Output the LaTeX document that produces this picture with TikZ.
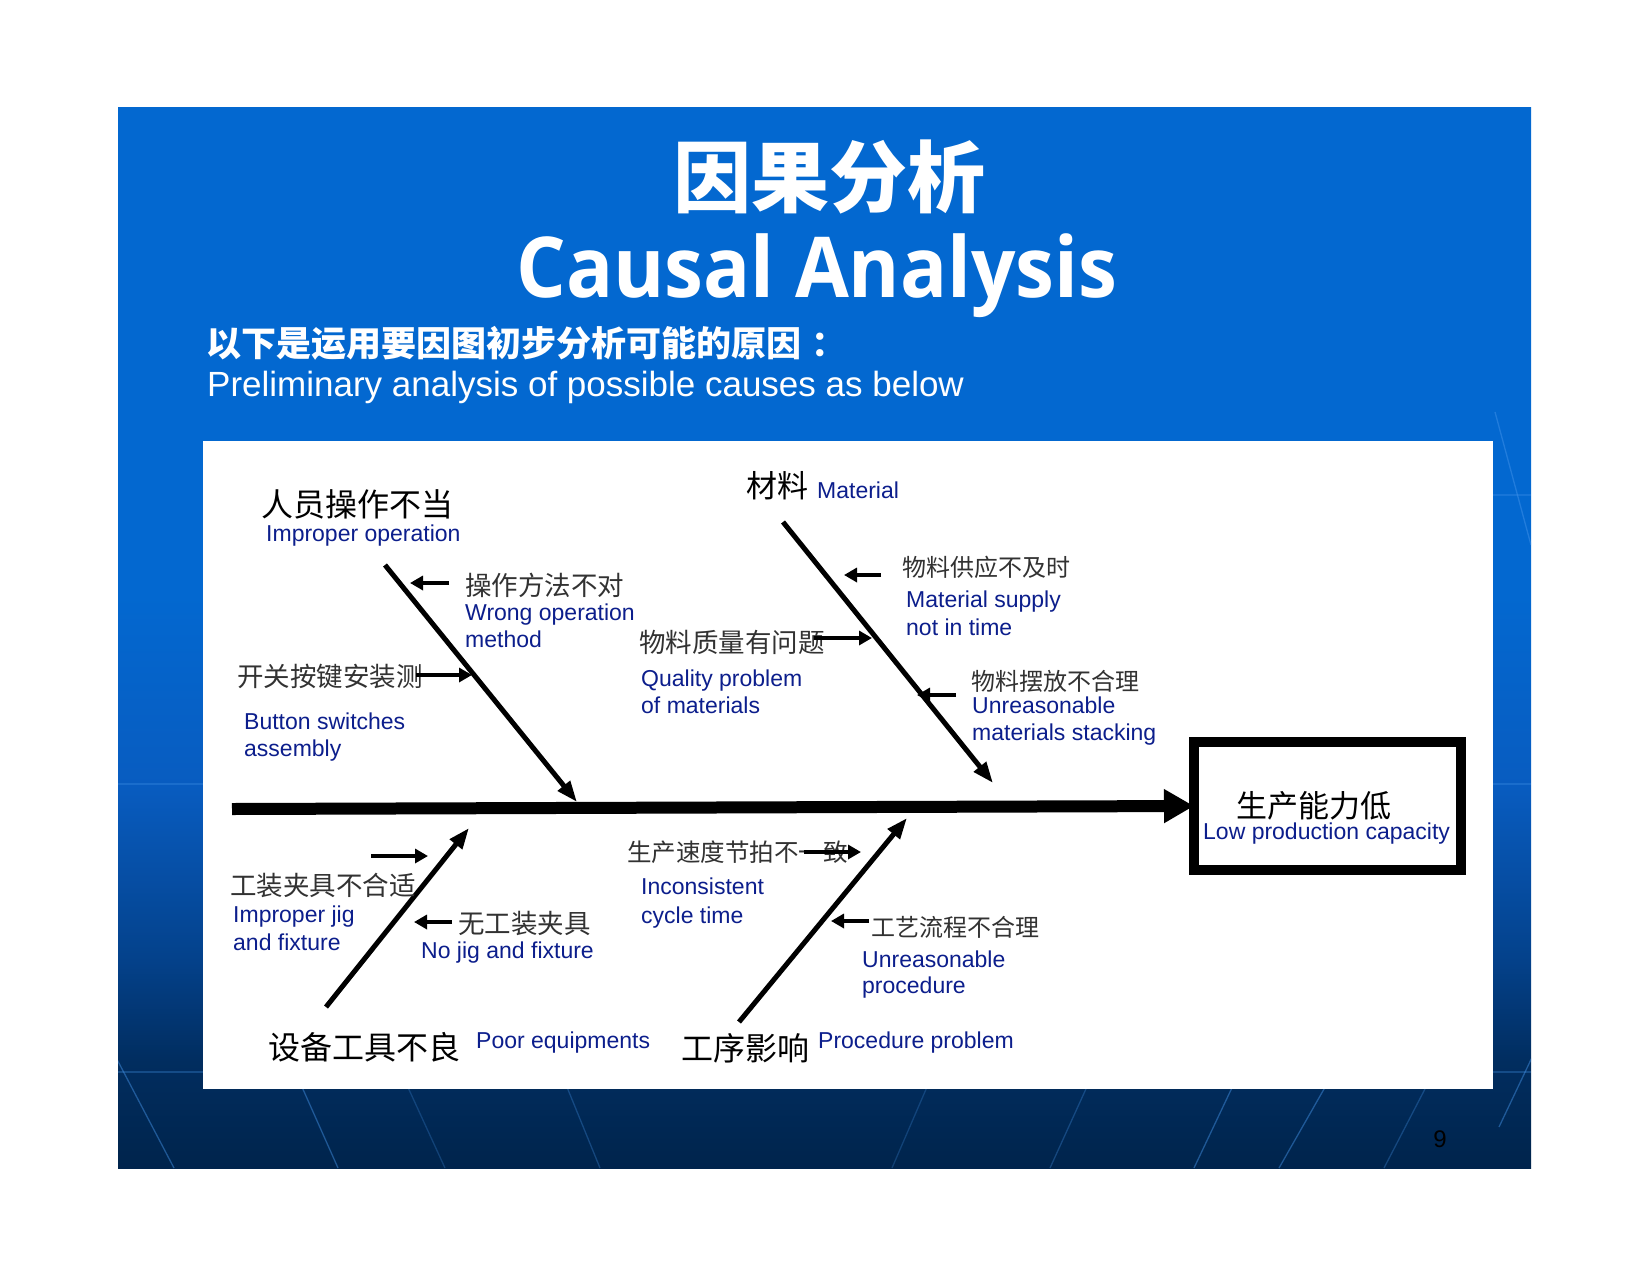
\documentclass[tikz,border=0pt]{standalone}
\usepackage{fontspec}
\setmainfont{Liberation Sans}
\newfontfamily\cjk{Noto Sans CJK SC}
\newfontfamily\titlefont{Open Sans}
\usetikzlibrary{arrows.meta}

\definecolor{slidetop}{RGB}{3,104,208}
\definecolor{slidea}{RGB}{8,92,192}
\definecolor{slideb}{RGB}{4,66,140}
\definecolor{slidec}{RGB}{1,45,95}
\definecolor{slidebot}{RGB}{0,36,76}
\definecolor{navytext}{RGB}{12,30,140}
\definecolor{lbl}{RGB}{50,50,50}
\definecolor{streak}{RGB}{70,150,235}

% TikZ maps the path onto the 25bp..75bp part of a shading
\pgfdeclareverticalshading{slidebg}{100bp}{color(0bp)=(slidebot); color(25bp)=(slidebot); color(30bp)=(slidec); color(35bp)=(slideb); color(43bp)=(slidea); color(52bp)=(slidetop); color(100bp)=(slidetop)}

\tikzset{
  en/.style={font=\fontsize{23}{26}\selectfont, text=navytext, inner sep=0pt, anchor=base west},
  cjkhead/.style={font=\cjk\fontsize{32}{36}\selectfont, text=black, inner sep=0pt, anchor=west},
  cjksub/.style={font=\cjk\fontsize{26.5}{30}\selectfont, text=lbl, inner sep=0pt, anchor=west},
  cjksmall/.style={font=\cjk\fontsize{24}{28}\selectfont, text=lbl, inner sep=0pt, anchor=west},
  bone/.style={line width=5pt, -{Triangle[length=21pt,width=15pt]}},
  twig/.style={line width=4pt, -{Triangle[length=13pt,width=14pt]}},
  bgline/.style={draw=streak, line width=1.3pt, opacity=0.45},
}

\begin{document}
\begin{tikzpicture}[x=1pt,y=-1pt]
\useasboundingbox (0,0) rectangle (1650,1275);
\fill[white] (0,0) rectangle (1650,1275);

% slide background
\shade[shading=slidebg] (118,107) rectangle (1531,1168);
\begin{scope}
  \clip (118,107) rectangle (1531,1168);
  \draw[bgline] (100,1027) -- (174,1168);
  \draw[bgline] (290,1060) -- (338,1168);
  \draw[bgline, opacity=0.25] (400,1070) -- (445,1168);
  \draw[bgline, opacity=0.3] (560,1070) -- (600,1168);
  \draw[bgline, opacity=0.25] (930,1080) -- (892,1168);
  \draw[bgline, opacity=0.3] (1090,1080) -- (1050,1168);
  \draw[bgline] (1238,1075) -- (1194,1168);
  \draw[bgline] (1332,1075) -- (1279,1168);
  \draw[bgline, opacity=0.3] (1440,1060) -- (1384,1168);
  \draw[bgline] (1545,1030) -- (1499,1127);
  \draw[bgline] (1495,412) -- (1531,545);
  \draw[bgline, opacity=0.3] (118,784) -- (1531,784);
  \draw[bgline, opacity=0.3] (118,1072) -- (1531,1072);
  \draw[bgline, opacity=0.3] (1400,495) -- (1531,495);
\end{scope}

% white panel
\fill[white] (203,441) rectangle (1493,1089);

% titles
\node[font=\cjk\bfseries\fontsize{78}{84}\selectfont, text=white, inner sep=0pt] (title1) at (829,177) {因果分析};
\node[font=\titlefont\bfseries\fontsize{84}{90}\selectfont, text=white, inner sep=0pt, anchor=base] (title2) at (817,297) {\scalebox{0.93}[1]{Causal Analysis}};
\node[font=\cjk\bfseries\fontsize{35}{40}\selectfont, text=white, inner sep=0pt, anchor=west] (sub1) at (206,343) {以下是运用要因图初步分析可能的原因\kern0.3em：};
\node[font=\fontsize{35}{40}\selectfont, text=white, inner sep=0pt, anchor=base west] (sub2) at (207,396) {Preliminary analysis of possible causes as below};

% effect box
\node[draw=black, fill=white, line width=10pt, outer sep=0pt, minimum width=267pt, minimum height=128pt] (effect) at (1327.5,806) {};
\node[font=\cjk\fontsize{31}{34}\selectfont, text=black, inner sep=0pt] (effcn) at (1314,806) {生产能力低};
\node[en] (effen) at (1203,839) {Low production capacity};

% spine
\coordinate (spinestart) at (232,809);
\draw[line width=12pt, -{Triangle[length=30pt,width=32pt]}] (spinestart) -- (effect.west);

% bones
\coordinate (b1s) at (385,565); \coordinate (b1e) at (577,802);
\coordinate (b2s) at (783,522); \coordinate (b2e) at (993,783);
\coordinate (b3s) at (326,1007); \coordinate (b3e) at (469,828);
\coordinate (b4s) at (739,1022); \coordinate (b4e) at (907,818);
\draw[bone] (b1s) -- (b1e);
\draw[bone] (b2s) -- (b2e);
\draw[bone] (b3s) -- (b3e);
\draw[bone] (b4s) -- (b4e);

% twigs
\coordinate (t1s) at (449,583); \coordinate (t1e) at (410,583);
\coordinate (t2s) at (416,675); \coordinate (t2e) at (472,675);
\coordinate (t3s) at (814,638); \coordinate (t3e) at (872,638);
\coordinate (t4s) at (881,575); \coordinate (t4e) at (844,575);
\coordinate (t5s) at (956,695); \coordinate (t5e) at (917,695);
\coordinate (t6s) at (371,856); \coordinate (t6e) at (428,856);
\coordinate (t7s) at (452,922); \coordinate (t7e) at (414,922);
\coordinate (t8s) at (804,852); \coordinate (t8e) at (861,852);
\coordinate (t9s) at (869,921); \coordinate (t9e) at (831,921);

% labels: top-left
\node[cjkhead] (h1) at (261,504) {人员操作不当};
\node[en] (h1en) at (266,541) {Improper operation};
\node[cjksub] (c1) at (465,585) {操作方法不对};
\node[en] (c1a) at (465,620) {Wrong operation};
\node[en] (c1b) at (465,647) {method};
\node[cjksub] (c2) at (237,676) {开关按键安装测};
\node[en] (c2a) at (244,729) {Button switches};
\node[en] (c2b) at (244,756) {assembly};

% labels: top-middle
\node[cjkhead, font=\cjk\fontsize{31}{34}\selectfont] (h2) at (746,486) {材料};
\node[en] (h2en) at (817,498) {Material};
\node[cjksmall] (c3) at (902,567) {物料供应不及时};
\node[en] (c3a) at (906,607) {Material supply};
\node[en] (c3b) at (906,635) {not in time};
\node[cjksub] (c4) at (639,642) {物料质量有问题};
\node[en] (c4a) at (641,686) {Quality problem};
\node[en] (c4b) at (641,713) {of materials};
\node[cjksmall] (c5) at (971,681) {物料摆放不合理};
\node[en] (c5a) at (972,713) {Unreasonable};
\node[en] (c5b) at (972,740) {materials stacking};

% labels: bottom-left
\node[cjksub] (c6) at (230,885) {工装夹具不合适};
\node[en] (c6a) at (233,922) {Improper jig};
\node[en] (c6b) at (233,950) {and fixture};
\node[cjksub] (c7) at (458,923) {无工装夹具};
\node[en] (c7a) at (421,958) {No jig and fixture};
\node[cjkhead] (h3) at (268,1047) {设备工具不良};
\node[en] (h3en) at (476,1048) {Poor equipments};

% labels: bottom-middle
\node[cjksmall, font=\cjk\fontsize{24.5}{28}\selectfont] (c8) at (627,852) {生产速度节拍不一致};
\node[en] (c8a) at (641,894) {Inconsistent};
\node[en] (c8b) at (641,923) {cycle time};
\node[cjksmall] (c9) at (871,927) {工艺流程不合理};
\node[en] (c9a) at (862,967) {Unreasonable};
\node[en] (c9b) at (862,993) {procedure};
\node[cjkhead] (h4) at (681,1048) {工序影响};
\node[en] (h4en) at (818,1048) {Procedure problem};

% twig arrows drawn over labels
\draw[twig] (t1s) -- (t1e);
\draw[twig] (t2s) -- (t2e);
\draw[twig] (t3s) -- (t3e);
\draw[twig] (t4s) -- (t4e);
\draw[twig] (t5s) -- (t5e);
\draw[twig] (t6s) -- (t6e);
\draw[twig] (t7s) -- (t7e);
\draw[twig] (t8s) -- (t8e);
\draw[twig] (t9s) -- (t9e);

% page number
\node[font=\fontsize{24}{26}\selectfont, text=black, inner sep=0pt] (pagenum) at (1440,1139) {9};
\end{tikzpicture}
\end{document}
